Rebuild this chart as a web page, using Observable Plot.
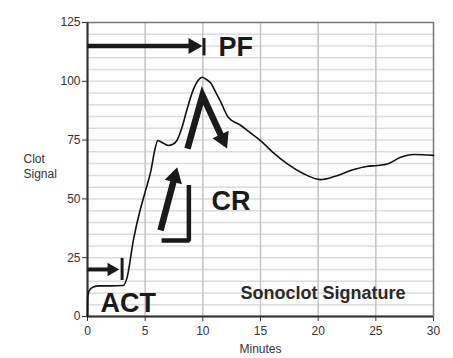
<!DOCTYPE html>
<html><head><meta charset="utf-8">
<script src="https://cdn.jsdelivr.net/npm/d3@7"></script>
<script src="https://cdn.jsdelivr.net/npm/@observablehq/plot@0.6"></script>
<style>
body{margin:0;background:#fff;}
#chart{position:relative;width:453px;height:358px;overflow:hidden;}
</style>
</head><body><div id="chart"></div>
<script>
// Sonoclot signature curve (minutes, clot signal)
const minutes = [0, 0.02, 0.15, 0.5, 1, 2, 3.1, 3.4, 4, 4.5, 5, 5.5, 5.8, 6.1, 6.6, 7.0, 7.4, 7.7, 8.2, 8.6, 9.2, 9.6, 9.95, 10.3, 10.7, 11.1, 11.5, 12.2, 13.3, 14.1, 15, 16.1, 17.3, 18.7, 20.2, 21.4, 23.1, 24.2, 25.1, 26, 27.1, 28.3, 30];
const signal  = [0, 8, 11, 12.5, 13, 13, 13.2, 16, 33, 44, 53, 62, 70, 74.8, 73.6, 72.7, 73.2, 74.5, 80.5, 87.6, 96.8, 100.4, 101.7, 100.8, 99.2, 95.5, 91.8, 84.7, 81.2, 78.2, 74.8, 69.7, 65, 60.8, 58.2, 59.5, 62.5, 63.8, 64.2, 64.8, 67.6, 68.9, 68.5];

// axes
const xTicks = [0, 5, 10, 15, 20, 25, 30];
const yTicks = [0, 25, 50, 75, 100, 125];
const xGrid = [5, 10, 15, 20, 25];
const yGrid = [5, 10, 15, 20, 25, 30, 35, 40, 45, 50, 55, 60, 65, 70, 75, 80, 85, 90, 95, 100, 105, 110, 115, 120];

// annotations: arrows (start, optional bend, tip)
const arrowNames = ["PF", "ACT", "CRup", "CRdown"];
const arrowX1 = [0, 0, 6.33, 8.67];
const arrowY1 = [115, 20, 36.6, 71.4];
const arrowBendX = [null, null, null, 9.97];
const arrowBendY = [null, null, null, 94];
const arrowX2 = [9.97, 2.75, 7.78, 12.1];
const arrowY2 = [115, 20, 63.5, 71.4];
const arrowHeadR = [6, 5, 6.6, 6.6];
const arrowWidth = [4.5, 4, 6.5, 6.5];
const barX = [10.1, 3.0];
const barY1 = [110.8, 15.3];
const barY2 = [118.2, 24.7];
const bracketX = [6.62, 8.79, 8.79];
const bracketY = [32.3, 32.3, 55];
const labelText = ["PF", "ACT", "CR"];
const labelX = [11.36, 1.13, 10.75];
const labelY = [114.4, 5.7, 48.9];
const titleText = "Sonoclot Signature";
const titleX = 13.27, titleY = 10;

const W = 453, H = 358, mL = 87, mR = 20, mT = 22, mB = 42;
const kx = (W - mL - mR) / 30, ky = (H - mT - mB) / 125;

const curve = minutes.map((m, i) => ({x: m, y: signal[i]}));

// arrow shafts and heads
const shafts = [], heads = [];
arrowNames.forEach((n, i) => {
  const sx = arrowBendX[i] ?? arrowX1[i], sy = arrowBendY[i] ?? arrowY1[i];
  const px = (arrowX2[i] - sx) * kx, py = -(arrowY2[i] - sy) * ky;
  const len = Math.hypot(px, py), ux = px / len, uy = py / len;
  const d = 1.555 * arrowHeadR[i];
  const cx = arrowX2[i] - ux * d / kx, cy = arrowY2[i] + uy * d / ky;
  shafts.push({name: n, x: arrowX1[i], y: arrowY1[i]});
  if (arrowBendX[i] != null) shafts.push({name: n, x: arrowBendX[i], y: arrowBendY[i]});
  shafts.push({name: n, x: cx, y: cy});
  heads.push({x: cx, y: cy, r: arrowHeadR[i], rot: Math.atan2(ux, -uy) * 180 / Math.PI});
});
const bracket = bracketX.map((x, i) => ({x, y: bracketY[i]}));
const bars = barX.map((x, i) => ({x, y1: barY1[i], y2: barY2[i]}));
const labels = labelText.map((t, i) => ({t, x: labelX[i], y: labelY[i]}));

const plot = Plot.plot({
  width: W, height: H,
  marginLeft: mL, marginRight: mR, marginTop: mT, marginBottom: mB,
  style: {fontFamily: "Liberation Sans, Arial, sans-serif", fontSize: "12px", color: "#333", background: "#fff"},
  x: {domain: [0, 30], ticks: xTicks, tickSize: 5, tickPadding: 5, label: null},
  y: {domain: [0, 125], ticks: yTicks, tickSize: 5, tickPadding: 2, label: null},
  r: {type: "identity"},
  marks: [
    Plot.ruleY(yGrid, {stroke: "#dcdcdc", strokeWidth: 1.5}),
    Plot.ruleX(xGrid, {stroke: "#c4c4c4", strokeWidth: 1.5}),
    Plot.frame({stroke: "#777", strokeWidth: 1.5}),
    Plot.ruleX([0], {stroke: "#333", strokeWidth: 2}),
    Plot.ruleY([0], {stroke: "#333", strokeWidth: 2}),
    Plot.line(curve, {x: "x", y: "y", stroke: "#111", strokeWidth: 1.6, curve: "monotone-x"}),
    // arrows
    ...arrowNames.map((n, i) => Plot.line(shafts.filter(s => s.name === n), {x: "x", y: "y", stroke: "#1a1a1a", strokeWidth: arrowWidth[i], strokeLinecap: "butt", strokeLinejoin: "miter", strokeMiterlimit: 10})),
    Plot.dot(heads, {x: "x", y: "y", r: "r", rotate: "rot", symbol: "triangle", fill: "#1a1a1a", stroke: null}),
    Plot.line(bracket, {x: "x", y: "y", stroke: "#1a1a1a", strokeWidth: 4.5, strokeLinejoin: "miter", strokeLinecap: "square"}),
    Plot.ruleX(bars, {x: "x", y1: "y1", y2: "y2", stroke: "#1a1a1a", strokeWidth: 3}),
    Plot.text(labels, {x: "x", y: "y", text: "t", textAnchor: "start", fontSize: 27, fontWeight: "bold", fill: "#1a1a1a"}),
    Plot.text([titleText], {x: titleX, y: titleY, text: d => d, textAnchor: "start", fontSize: 18, fontWeight: "bold", fill: "#2a2a2a"}),
    Plot.text(["Clot\nSignal"], {frameAnchor: "left", dx: -64, dy: -4, text: d => d, textAnchor: "start", fontSize: 12, lineHeight: 1.3, fill: "#333"}),
    Plot.text(["Minutes"], {frameAnchor: "bottom", dy: 36, text: d => d, fontSize: 12, fill: "#333"})
  ]
});
plot.style.display = "block";
document.getElementById("chart").appendChild(plot);
</script>
</body></html>
